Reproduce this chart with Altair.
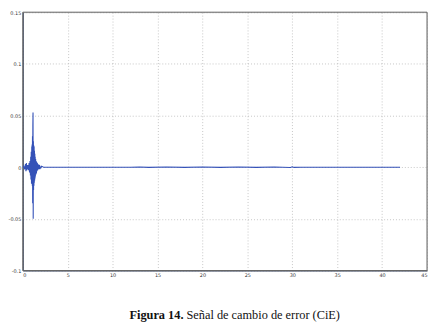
import altair as alt
import pandas as pd

# signal samples (time s, value)
t_vals = [0.0, 0.1, 0.2, 0.3, 0.35, 0.4, 0.45, 0.5, 0.55, 0.6, 0.65, 0.7, 0.75, 0.8,
          0.85, 0.88, 0.91, 0.94, 0.97, 1.0, 1.02, 1.04, 1.06, 1.08, 1.1, 1.12, 1.14,
          1.16, 1.18, 1.2, 1.22, 1.24, 1.26, 1.28, 1.3, 1.32, 1.34, 1.36, 1.38, 1.4,
          1.43, 1.46, 1.49, 1.52, 1.55, 1.58, 1.62, 1.66, 1.7, 1.75, 1.8, 1.85, 1.9,
          2.0, 2.1, 2.3, 3.0, 5.0, 9.0, 12.0, 13.0, 14.0, 16.0, 18.0, 20.0, 22.0,
          24.0, 26.0, 28.0, 29.8, 30.0, 30.2, 31.0, 35.0, 40.0, 42.0]
y_vals = [0.0, 0.001, -0.002, 0.003, -0.004, 0.004, -0.003, 0.002, -0.002, 0.002, -0.003, 0.004, -0.005, 0.006,
          -0.008, 0.010, -0.012, 0.015, -0.016, 0.020, -0.015, 0.022, -0.018, 0.030, -0.035, 0.040, 0.053,
          -0.050, 0.025, -0.022, 0.021, -0.018, 0.020, -0.015, 0.016, -0.013, 0.013, -0.011, 0.010, -0.009,
          0.008, -0.007, 0.006, -0.006, 0.005, -0.004, 0.004, -0.003, 0.003, -0.002, 0.002, -0.002, 0.001,
          -0.001, 0.001, 0.0, 0.0, 0.0, 0.0, 0.0, 0.0002, -0.0002, 0.0002, -0.0002, 0.0002, -0.0002,
          0.0002, -0.0002, 0.0002, -0.0003, 0.0004, -0.0002, 0.0, 0.0, 0.0, 0.0]

x_ticks = [0, 5, 10, 15, 20, 25, 30, 35, 40, 45]
y_ticks = [-0.1, -0.05, 0, 0.05, 0.1, 0.15]

caption_bold = ["Figura 14."]
caption_rest = ["Señal de cambio de error (CiE)"]

W, H = 410, 262

df = pd.DataFrame({"t": t_vals, "y": y_vals})

axis_common = dict(
    grid=True, gridColor="#b8b8b8", gridDash=[1, 2], gridWidth=0.8,
    domainColor="#3a4560", domainWidth=1, ticks=False,
    labelFontSize=5, labelColor="#333", labelPadding=2, labelFont="DejaVu Sans",
    title=None, labelExpr="'' + datum.value",
)

line = alt.Chart(df).mark_line(color="#3552b8", strokeWidth=1.1, clip=True).encode(
    x=alt.X("t:Q", scale=alt.Scale(domain=[0, 45], nice=False, zero=False),
            axis=alt.Axis(values=x_ticks, **axis_common)),
    y=alt.Y("y:Q", scale=alt.Scale(domain=[-0.1, 0.15], nice=False, zero=False),
            axis=alt.Axis(values=y_ticks, **axis_common)),
)

frame = alt.Chart(pd.DataFrame({"c": caption_bold})).mark_rect(
    fill=None, fillOpacity=0, stroke="#666", strokeWidth=1
).encode(x=alt.value(0), x2=alt.value(W), y=alt.value(0), y2=alt.value(H))

cap1 = alt.Chart(pd.DataFrame({"c": caption_bold})).mark_text(
    align="right", baseline="middle", fontSize=12.5, fontWeight="bold",
    font="Liberation Serif", color="#111"
).encode(text="c:N", x=alt.value(163), y=alt.value(H + 45))

cap2 = alt.Chart(pd.DataFrame({"c": caption_rest})).mark_text(
    align="left", baseline="middle", fontSize=12.5,
    font="Liberation Serif", color="#111"
).encode(text="c:N", x=alt.value(166), y=alt.value(H + 45))

chart = alt.layer(frame, line, cap1, cap2).properties(
    width=W, height=H, padding={"left": 0, "top": 0, "right": 0, "bottom": 0}
).configure_view(stroke="#444", strokeWidth=1.2).configure(background="white")

chart.save("out.html", embed_options={"renderer": "svg", "actions": False})
